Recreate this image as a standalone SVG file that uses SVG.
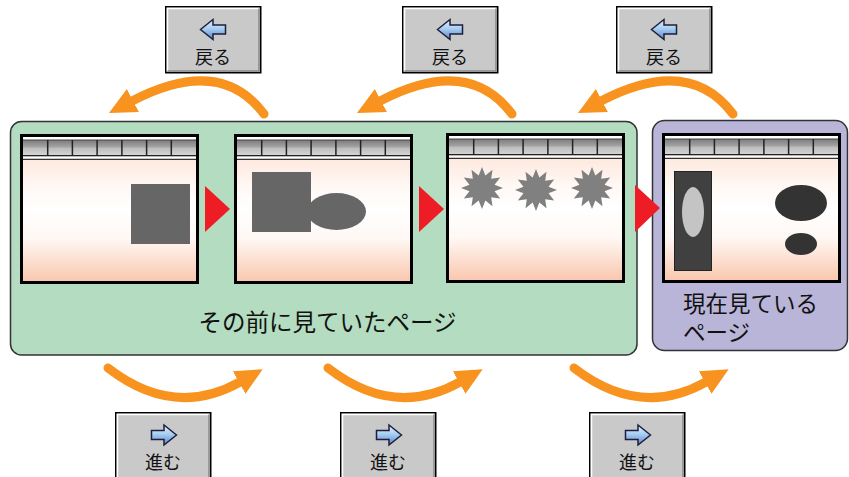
<svg xmlns="http://www.w3.org/2000/svg" xmlns:xlink="http://www.w3.org/1999/xlink" width="849" height="477" viewBox="0 0 849 477">
<defs>
<style>
.jp{font-family:"Noto Sans CJK JP","Noto Sans",sans-serif;fill:#111}
.arc{fill:none;stroke:#f7931e;stroke-width:9;stroke-linecap:round}
.btn{fill:#c9c9c9;stroke:#000;stroke-width:1.5}
.hl{fill:none;stroke:#fff;stroke-width:1.5}
.sh{fill:none;stroke:#888;stroke-width:1.5}
.ico{fill:url(#blue);stroke:#1e1e3c;stroke-width:1.5;stroke-linejoin:miter}
.tri{fill:#ee1c25}
</style>
<linearGradient id="pg" x1="0" y1="0" x2="0" y2="1">
<stop offset="0" stop-color="#fcdccd"/>
<stop offset="0.35" stop-color="#fff8f4"/>
<stop offset="0.5" stop-color="#ffffff"/>
<stop offset="0.7" stop-color="#fff8f4"/>
<stop offset="1" stop-color="#f9c6ad"/>
</linearGradient>
<linearGradient id="tb" x1="0" y1="0" x2="0" y2="1">
<stop offset="0" stop-color="#7c7c7c"/>
<stop offset="0.45" stop-color="#a2a2a2"/>
<stop offset="0.55" stop-color="#bdbdbd"/>
<stop offset="1" stop-color="#d4d4d4"/>
</linearGradient>
<linearGradient id="blue" x1="0" y1="0" x2="0" y2="1">
<stop offset="0" stop-color="#e4f2ff"/>
<stop offset="0.45" stop-color="#a8cff2"/>
<stop offset="1" stop-color="#5c84c8"/>
</linearGradient>
<marker id="ah" markerWidth="28" markerHeight="26" refX="1" refY="13" orient="auto" markerUnits="userSpaceOnUse">
<path d="M0,0 L27,13 L0,26 Z" fill="#f7931e"/>
</marker>
<g id="win">
<rect x="1.5" y="1.5" width="176" height="147" fill="url(#pg)" stroke="#000" stroke-width="3"/>
<rect x="3" y="3" width="173" height="3" fill="#fff"/>
<rect x="3" y="6" width="173" height="15" fill="url(#tb)"/>
<line x1="3" y1="6" x2="176" y2="6" stroke="#444" stroke-width="1"/>
<g stroke="#222" stroke-width="1.5">
<line x1="27.7" y1="6" x2="27.7" y2="21"/>
<line x1="52.4" y1="6" x2="52.4" y2="21"/>
<line x1="77.1" y1="6" x2="77.1" y2="21"/>
<line x1="101.9" y1="6" x2="101.9" y2="21"/>
<line x1="126.6" y1="6" x2="126.6" y2="21"/>
<line x1="151.3" y1="6" x2="151.3" y2="21"/>
</g>
<line x1="3" y1="21.8" x2="176" y2="21.8" stroke="#222" stroke-width="1.6"/>
<rect x="3" y="22.6" width="173" height="2.2" fill="#fff"/>
<line x1="3" y1="25.4" x2="176" y2="25.4" stroke="#333" stroke-width="1.2"/>
</g>
<polygon id="star" points="0,-21 3.36,-12.56 10.5,-18.19 9.19,-9.19 18.19,-10.5 12.56,-3.36 21,0 12.56,3.36 18.19,10.5 9.19,9.19 10.5,18.19 3.36,12.56 0,21 -3.36,12.56 -10.5,18.19 -9.19,9.19 -18.19,10.5 -12.56,3.36 -21,0 -12.56,-3.36 -18.19,-10.5 -9.19,-9.19 -10.5,-18.19 -3.36,-12.56" fill="#808080"/>
<path id="larr" class="ico" d="M-12.5,0 L0,-10 L0,-4.5 L12.5,-4.5 L12.5,4.5 L0,4.5 L0,10 Z"/>
<path id="rarr" class="ico" d="M12.5,0 L0,-10 L0,-4.5 L-12.5,-4.5 L-12.5,4.5 L0,4.5 L0,10 Z"/>
</defs>

<rect width="849" height="477" fill="#fff"/>

<g id="panel-previous">
<rect x="10.5" y="121.5" width="626.5" height="233.5" rx="11" fill="#b3dcc0" stroke="#333" stroke-width="1.5"/>
<text class="jp" x="327.5" y="331" font-size="23.5" text-anchor="middle">その前に見ていたページ</text>
</g>

<g id="panel-current">
<rect x="652.5" y="120.5" width="195" height="230" rx="12" fill="#b9b5d9" stroke="#333" stroke-width="1.5"/>
<text class="jp" x="683" y="312" font-size="22.5">現在見ている</text>
<text class="jp" x="683" y="341" font-size="22.5">ページ</text>
</g>

<g id="page1">
<use xlink:href="#win" x="20" y="134"/>
<rect x="131" y="184" width="59" height="60" fill="#666"/>
</g>

<g id="page2">
<use xlink:href="#win" x="234" y="134"/>
<ellipse cx="336.5" cy="211.5" rx="29.5" ry="18.5" fill="#666"/>
<rect x="252" y="172" width="59" height="60" fill="#666"/>
</g>

<g id="page3">
<use xlink:href="#win" x="446" y="133"/>
<use xlink:href="#star" x="482" y="188"/>
<use xlink:href="#star" x="536" y="190"/>
<use xlink:href="#star" x="592" y="188"/>
</g>

<g id="page4">
<use xlink:href="#win" x="662" y="133"/>
<rect x="674.5" y="171.5" width="37" height="99" fill="#404040" stroke="#222" stroke-width="1"/>
<ellipse cx="693" cy="212" rx="11" ry="25" fill="#c4c4c4"/>
<ellipse cx="801" cy="203" rx="26" ry="18" fill="#333"/>
<ellipse cx="801" cy="244" rx="16" ry="11" fill="#333"/>
</g>

<g id="connectors">
<polygon class="tri" points="205,186 205,232 230,209"/>
<polygon class="tri" points="419,186 419,232 444,209"/>
<polygon class="tri" points="635,185 635,232 660,208"/>
<path class="arc" d="M264,114 Q220,55 132,101" marker-end="url(#ah)"/>
<path class="arc" d="M512,114 Q468,55 380,101" marker-end="url(#ah)"/>
<path class="arc" d="M733,114 Q689,55 601,101" marker-end="url(#ah)"/>
<path class="arc" d="M108,368 Q174,419 240,382" marker-end="url(#ah)"/>
<path class="arc" d="M328,368 Q394,419 460,382" marker-end="url(#ah)"/>
<path class="arc" d="M574,368 Q640,419 706,382" marker-end="url(#ah)"/>
</g>

<g id="back1">
<rect class="btn" x="165.75" y="6.75" width="95" height="66"/>
<path class="hl" d="M167.5,71 V8.5 H259"/>
<path class="sh" d="M167.5,71 H259 V8.5"/>
<use xlink:href="#larr" x="213" y="29.5"/>
<text class="jp" x="213" y="64" font-size="18" text-anchor="middle">戻る</text>
</g>
<g id="back2">
<rect class="btn" x="402.75" y="6.75" width="95" height="66"/>
<path class="hl" d="M404.5,71 V8.5 H496"/>
<path class="sh" d="M404.5,71 H496 V8.5"/>
<use xlink:href="#larr" x="450" y="29.5"/>
<text class="jp" x="450" y="64" font-size="18" text-anchor="middle">戻る</text>
</g>
<g id="back3">
<rect class="btn" x="616.75" y="6.75" width="95" height="66"/>
<path class="hl" d="M618.5,71 V8.5 H710"/>
<path class="sh" d="M618.5,71 H710 V8.5"/>
<use xlink:href="#larr" x="664" y="29.5"/>
<text class="jp" x="664" y="64" font-size="18" text-anchor="middle">戻る</text>
</g>

<g id="forward1">
<rect class="btn" x="115.75" y="412.75" width="95" height="70"/>
<path class="hl" d="M117.5,480 V414.5 H209"/>
<path class="sh" d="M209,414.5 V480"/>
<use xlink:href="#rarr" x="164" y="435"/>
<text class="jp" x="163" y="469" font-size="18" text-anchor="middle">進む</text>
</g>
<g id="forward2">
<rect class="btn" x="340.75" y="412.75" width="95" height="70"/>
<path class="hl" d="M342.5,480 V414.5 H434"/>
<path class="sh" d="M434,414.5 V480"/>
<use xlink:href="#rarr" x="389" y="435"/>
<text class="jp" x="388" y="469" font-size="18" text-anchor="middle">進む</text>
</g>
<g id="forward3">
<rect class="btn" x="589.75" y="412.75" width="95" height="70"/>
<path class="hl" d="M591.5,480 V414.5 H683"/>
<path class="sh" d="M683,414.5 V480"/>
<use xlink:href="#rarr" x="638" y="435"/>
<text class="jp" x="637" y="469" font-size="18" text-anchor="middle">進む</text>
</g>
</svg>
